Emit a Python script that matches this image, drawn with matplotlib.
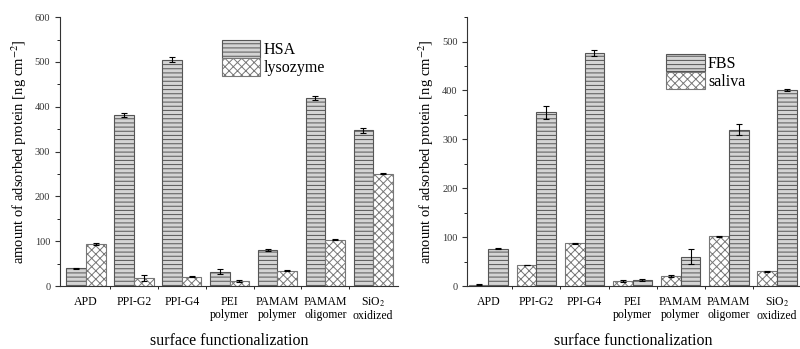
import numpy as np
import matplotlib
matplotlib.use("Agg")
import matplotlib.pyplot as plt
from matplotlib.ticker import MultipleLocator, FixedLocator

plt.rcParams['font.family'] = ['Liberation Serif', 'DejaVu Serif']
plt.rcParams['mathtext.fontset'] = 'stix'
plt.rcParams['hatch.linewidth'] = 0.7

# ─── data ─────────────────────────────────────────────────────────────────────
categories = ['APD', 'PPI-G2', 'PPI-G4', 'PEI\npolymer', 'PAMAM\npolymer',
              'PAMAM\noligomer', 'SiO$_2$\noxidized']

hsa     = [40, 382, 505, 32, 81, 420, 347]
hsa_err = [1, 4, 5, 6, 2, 5, 5]
lyso     = [94, 18, 21, 11, 34, 103, 251]
lyso_err = [3, 6, 2, 2, 1, 1, 1]

saliva     = [3, 43, 87, 10, 20, 102, 30]
saliva_err = [1, 0.5, 0.5, 2, 2, 1, 1]
fbs     = [76, 355, 477, 13, 60, 320, 400]
fbs_err = [1, 14, 6, 2, 16, 11, 2]

# ─── styling ──────────────────────────────────────────────────────────────────
HLINE = dict(facecolor='#d4d4d4', edgecolor='#555555', hatch='----', linewidth=0.8)
CROSS = dict(facecolor='white', edgecolor='#777777', hatch='xxxx', linewidth=0.8)
ERR = dict(ecolor='black', capsize=2.5, elinewidth=0.8, capthick=0.8)

x = np.arange(1, len(categories) + 1)
w = 0.41

fig = plt.figure(figsize=(8, 3.49), dpi=100)
ax1 = fig.add_axes([0.075, 0.1805, 0.4225, 0.7705])
ax2 = fig.add_axes([0.584, 0.1805, 0.416, 0.7705])


def style(ax, ymax):
    for s in ('top', 'right'):
        ax.spines[s].set_visible(False)
    ax.spines['left'].set_color('#333333')
    ax.spines['bottom'].set_color('#333333')
    ax.set_ylim(0, ymax)
    ax.yaxis.set_major_locator(MultipleLocator(100))
    ax.yaxis.set_minor_locator(MultipleLocator(50))
    ax.set_xticks(x)
    ax.set_xticklabels(categories, fontsize=8.5, linespacing=1.1)
    ax.xaxis.set_minor_locator(FixedLocator(x[:-1] + 0.5))
    ax.tick_params(axis='x', which='major', length=0, pad=7)
    ax.tick_params(axis='x', which='minor', length=2.5, direction='out')
    ax.tick_params(axis='y', which='major', length=3.5, labelsize=7.5, colors='#333333')
    ax.tick_params(axis='y', which='minor', length=2)
    ax.set_ylabel('amount of adsorbed protein [ng cm$^{-2}$]', fontsize=10.5, labelpad=4)
    ax.set_xlabel('surface functionalization', fontsize=11.5, labelpad=8)


# left panel — HSA / lysozyme
ax1.bar(x - w / 2, hsa, w, yerr=hsa_err, error_kw=ERR, label='HSA', **HLINE)
ax1.bar(x + w / 2, lyso, w, yerr=lyso_err, error_kw=ERR, label='lysozyme', **CROSS)
ax1.set_xlim(0.455, 7.52)
style(ax1, 600)
ax1.legend(loc='upper left', bbox_to_anchor=(0.45, 0.95), frameon=False, fontsize=11.5,
           handlelength=2.4, handleheight=1.3, handletextpad=0.2, labelspacing=0.0,
           borderpad=0.1)

# right panel — saliva / FBS
b_s = ax2.bar(x - w / 2, saliva, w, yerr=saliva_err, error_kw=ERR, label='saliva', **CROSS)
b_f = ax2.bar(x + w / 2, fbs, w, yerr=fbs_err, error_kw=ERR, label='FBS', **HLINE)
ax2.set_xlim(0.56, 7.48)
style(ax2, 550)
ax2.legend([b_f, b_s], ['FBS', 'saliva'], loc='upper left', bbox_to_anchor=(0.57, 0.90),
           frameon=False, fontsize=11.5, handlelength=2.4, handleheight=1.3,
           handletextpad=0.2, labelspacing=0.0, borderpad=0.1)

fig.savefig('out.png', dpi=100)
